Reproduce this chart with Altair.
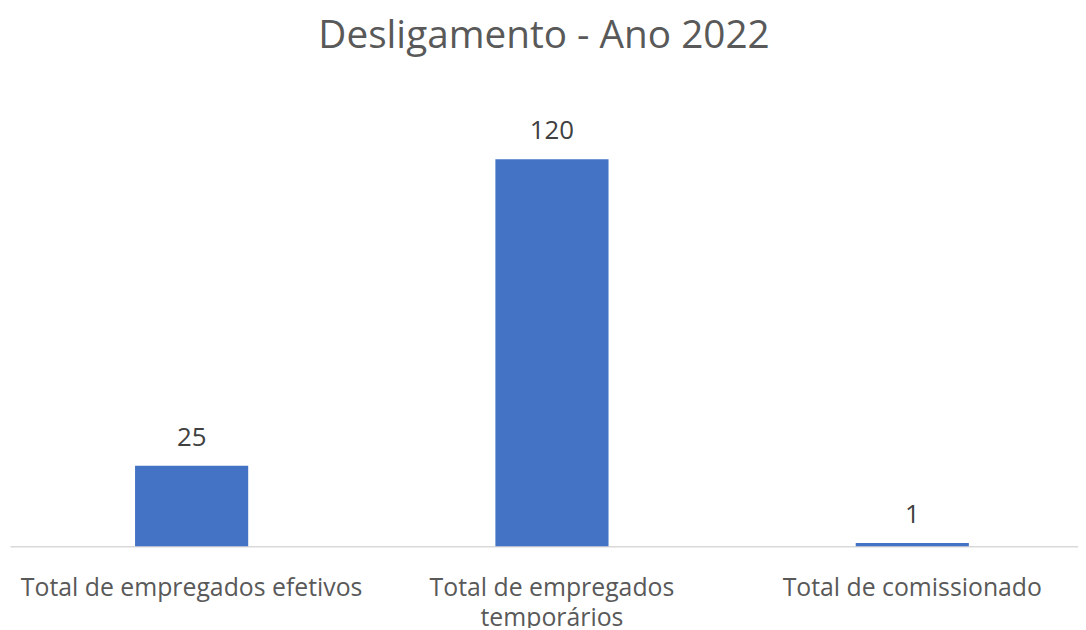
import altair as alt
import pandas as pd

categories = ["Total de empregados efetivos", "Total de empregados\ntemporários", "Total de comissionado"]
values = [25, 120, 1]

df = pd.DataFrame({"categoria": categories, "valor": values})

FONT = "Open Sans"

x = alt.X(
    "categoria:N",
    sort=categories,
    title=None,
    scale=alt.Scale(paddingInner=0.686, paddingOuter=0.325, align=0.534),
    axis=alt.Axis(
        labelAngle=0,
        labelFont=FONT,
        labelFontSize=25,
        labelColor="#595959",
        labelExpr="split(datum.label, '\\n')",
        labelLineHeight=30,
        labelPadding=30,
        ticks=False,
        tickSize=0,
        domainColor="#D9D9D9",
        domainWidth=1.5,
        labelLimit=600,
    ),
)
y = alt.Y("valor:Q", scale=alt.Scale(domain=[0, 140], nice=False), axis=None)

bars = alt.Chart(df).mark_bar(color="#4472C4").encode(x=x, y=y)
labels = alt.Chart(df).mark_text(
    font=FONT, fontSize=26, color="#404040", baseline="alphabetic", dy=-20
).encode(x=x, y=y, text="valor:Q")

chart = (
    alt.layer(bars, labels)
    .properties(
        width=1076,
        height=455,
        autosize=alt.AutoSizeParams(type="none"),
        padding={"left": 2, "right": 0, "top": 85, "bottom": 80},
        view=alt.ViewBackground(stroke="transparent", strokeWidth=0),
        title=alt.TitleParams(
            "Desligamento - Ano 2022",
            font=FONT,
            fontSize=39,
            fontWeight="normal",
            color="#595959",
            anchor="middle",
            offset=8,
            baseline="alphabetic",
        ),
    )
    .configure_view(strokeWidth=0, stroke="transparent")
    .configure(background="white", style={"cell": {"stroke": "transparent", "strokeWidth": 0}})
)

chart.save("out.html", embed_options={"renderer": "svg", "actions": False})
